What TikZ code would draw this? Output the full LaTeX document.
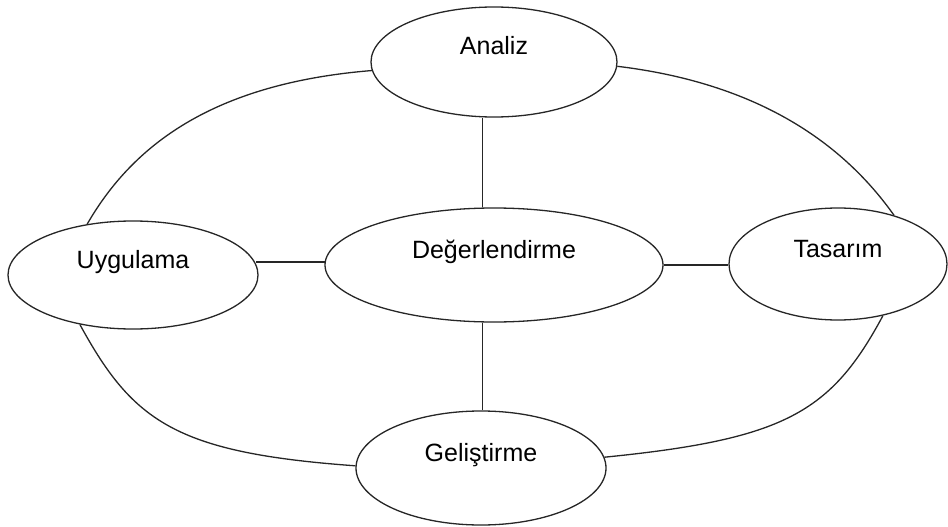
\documentclass[tikz,border=0pt]{standalone}
\usepackage{fontspec}
\setmainfont{Liberation Sans}
\usetikzlibrary{shapes.geometric}
\begin{document}
\begin{tikzpicture}[x=1pt,y=-1pt,
  phase/.style={ellipse,draw=black!85,line width=1.3pt,fill=white,inner sep=3pt,
    font=\fontsize{25}{30}\selectfont,text height=18pt,text depth=32pt},
  link/.style={draw=black!85,line width=1.3pt}]
\useasboundingbox (0,0) rectangle (948,527);
% outer cycle arcs are drawn after nodes are placed
\node[phase,minimum width=246pt,minimum height=110pt] (ana) at (494,62) {Analiz};
\node[phase,minimum width=250pt,minimum height=108pt] (uyg) at (133,275) {Uygulama};
\node[phase,minimum width=338pt,minimum height=114pt] (deg) at (494,265) {Değerlendirme};
\node[phase,minimum width=218pt,minimum height=112pt] (tas) at (838,264) {Tasarım};
\node[phase,minimum width=250pt,minimum height=114pt] (gel) at (481,468) {Geliştirme};
% outer arcs
\draw[link] (ana.184) .. controls +(-160,13) and +(45,-78) .. (uyg.132);
\draw[link] (ana.358) .. controls +(150,18) and +(-46,-65) .. (tas.41);
\draw[link] (tas.311) .. controls +(-52,97) and +(180,-18) .. (gel.5);
\draw[link] (uyg.223) .. controls +(53,97) and +(-180,-13) .. (gel.179);
% spokes
\draw[link] (deg.101) -- (deg.101 |- ana.south);
\draw[link] (deg.259) -- (deg.259 |- gel.north);
\draw[link] (deg.179) -- (deg.179 -| uyg.5);
\draw[link] (deg.east) -- (deg.east -| tas.west);
\end{tikzpicture}
\end{document}
